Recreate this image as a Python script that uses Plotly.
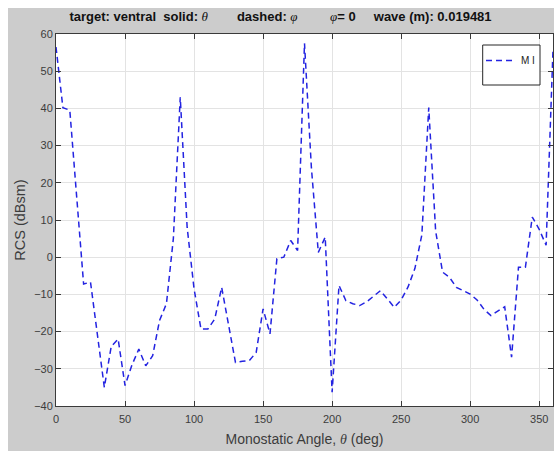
import plotly.graph_objects as go

# Monostatic RCS sweep, phi = 0 cut, sampled every 5 degrees
theta_deg = list(range(0, 361, 5))
rcs_dbsm = [
    56.5, 40.2, 39.5, 16.5, -7.2, -6.7, -20.5, -35.0, -24.0, -22.0,
    -34.5, -29.0, -24.7, -29.2, -26.5, -17.0, -12.5, 5.0, 43.0, 8.0,
    -8.5, -19.3, -19.3, -16.6, -8.1, -18.0, -28.3, -28.0, -27.8, -25.6,
    -13.9, -20.6, -0.4, 0.0, 4.5, 1.8, 57.5, 24.0, 1.3, 5.4,
    -36.3, -7.6, -11.7, -12.5, -13.0, -12.0, -10.5, -9.0, -11.2, -13.5,
    -11.5, -8.0, -3.0, 6.0, 40.2, 7.0, -4.0, -5.4, -8.1, -9.0,
    -9.9, -11.5, -14.0, -15.7, -14.5, -13.3, -26.9, -2.7, -2.7, 10.8,
    7.5, 3.2, 55.7,
]
series_name = "M I"

x_ticks = [0, 50, 100, 150, 200, 250, 300, 350]
y_ticks = [-40, -30, -20, -10, 0, 10, 20, 30, 40, 50, 60]

W, H = 554, 451
ML, MR, MT, MB = 56, 1, 34, 45
PW, PH = W - ML - MR, H - MT - MB

SANS = "Liberation Sans, Arial"
SERIF_I = "<span style='font-family:Liberation Serif;font-weight:normal'><i>{}</i></span>"


def px_x(p):
    return (p - ML) / PW


def px_y(p):
    return (H - MB - p) / PH


fig = go.Figure()
fig.add_trace(go.Scatter(
    x=theta_deg, y=rcs_dbsm, mode="lines", name=series_name,
    line=dict(color="rgb(35,35,225)", width=1.5, dash="6px,4px"),
))

axis_common = dict(
    showgrid=True, gridcolor="#e3e3e3", gridwidth=1,
    showline=True, linecolor="#3a3a3a", linewidth=1, mirror="ticks",
    ticks="inside", ticklen=5, tickcolor="#3a3a3a",
    tickfont=dict(family=SANS, size=11, color="#3c3c3c"),
    zeroline=False,
)

title_text = (
    "<b>target: ventral  solid: </b>" + SERIF_I.format("θ")
    + "<b>        dashed: </b>" + SERIF_I.format("φ")
    + "<b>         </b>" + SERIF_I.format("φ")
    + "<b>= 0     wave (m): 0.019481</b>"
)

fig.update_layout(
    width=W, height=H,
    margin=dict(l=ML, r=MR, t=MT, b=MB, pad=0),
    paper_bgcolor="white", plot_bgcolor="white",
    xaxis=dict(
        range=[0, 360], tickvals=x_ticks, ticklabelstandoff=3, **axis_common,
        title=dict(text="Monostatic Angle, " + SERIF_I.format("θ") + " (deg)", standoff=9,
                   font=dict(family=SANS, size=14, color="#3c3c3c")),
    ),
    yaxis=dict(
        range=[-40, 60], tickvals=y_ticks, **axis_common,
        title=dict(text="RCS (dBsm)", standoff=5,
                   font=dict(family=SANS, size=14.5, color="#3c3c3c")),
    ),
    title=dict(
        text=title_text,
        x=px_x(280.5), xref="paper", xanchor="center",
        y=1 - 16 / H, yref="container", yanchor="middle",
        font=dict(family=SANS, size=13, color="#111111"),
    ),
    showlegend=True,
    legend=dict(
        x=px_x(481), y=px_y(46), xanchor="left", yanchor="top",
        bgcolor="rgba(0,0,0,0)", borderwidth=0,
        font=dict(family=SANS, size=10, color="#222222"),
        itemwidth=30,
    ),
)

# grey figure backdrop
fig.add_shape(type="rect", xref="paper", yref="paper", layer="below",
              x0=px_x(8), x1=px_x(W + 2), y0=px_y(H + 2), y1=px_y(8),
              fillcolor="#cccccc", line=dict(width=0))
fig.add_shape(type="rect", xref="paper", yref="paper", layer="below",
              x0=0, x1=1, y0=0, y1=1, fillcolor="white", line=dict(width=0))
# legend frame
fig.add_shape(type="rect", xref="paper", yref="paper", layer="above",
              x0=px_x(482.7), x1=px_x(540), y0=px_y(85), y1=px_y(45),
              fillcolor="white", line=dict(color="#262626", width=1))

fig.write_html("out.html")
